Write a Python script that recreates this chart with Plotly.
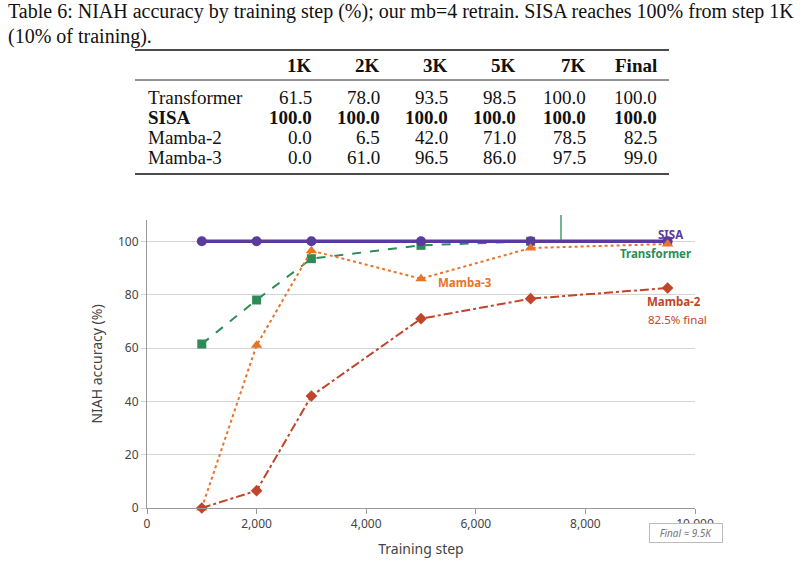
import plotly.graph_objects as go

# ---------------- data ----------------
steps = [1000, 2000, 3000, 5000, 7000, 9500]
col_labels = ["1K", "2K", "3K", "5K", "7K", "Final"]
transformer = [61.5, 78.0, 93.5, 98.5, 100.0, 100.0]
sisa = [100.0, 100.0, 100.0, 100.0, 100.0, 100.0]
mamba2 = [0.0, 6.5, 42.0, 71.0, 78.5, 82.5]
mamba3 = [0.0, 61.0, 96.5, 86.0, 97.5, 99.0]
row_names = ["Transformer", "SISA", "Mamba-2", "Mamba-3"]
y_ticks = [0, 20, 40, 60, 80, 100]
x_ticks = [0, 2000, 4000, 6000, 8000, 10000]

W, H = 806, 567
L, R, T, B = 147, 695, 220, 508  # plot area in pixels


def px(x):
    return (x - L) / (R - L)


def py(y):
    return (B - y) / (B - T)


PURPLE = "#5B3A9E"
GREEN = "#2E8B57"
ORANGE = "#E8732A"
RED = "#C0452A"
CF = "Noto Sans, Open Sans, sans-serif"
SERIF = "Liberation Serif, Times New Roman, serif"

fig = go.Figure()
fig.add_trace(go.Scatter(x=steps, y=transformer, mode="lines+markers", name="Transformer",
                         line=dict(color=GREEN, width=2, dash="dash"),
                         marker=dict(symbol="square", size=9, color=GREEN), cliponaxis=False))
fig.add_trace(go.Scatter(x=steps, y=sisa, mode="lines+markers", name="SISA",
                         line=dict(color=PURPLE, width=3.5),
                         marker=dict(symbol="circle", size=10, color=PURPLE), cliponaxis=False))
fig.add_trace(go.Scatter(x=steps, y=mamba3, mode="lines+markers", name="Mamba-3",
                         line=dict(color=ORANGE, width=2, dash="dot"),
                         marker=dict(symbol="triangle-up", size=10, color=ORANGE), cliponaxis=False))
fig.add_trace(go.Scatter(x=steps, y=mamba2, mode="lines+markers", name="Mamba-2",
                         line=dict(color=RED, width=2, dash="dashdot"),
                         marker=dict(symbol="diamond", size=9, color=RED), cliponaxis=False))

ann = []
# caption
ann.append(dict(text="Table 6: NIAH accuracy by training step (%); our mb=4 retrain. SISA reaches 100% from step 1K",
                x=px(6), y=py(12), xref="paper", yref="paper", xanchor="left", yanchor="middle",
                showarrow=False, font=dict(family=SERIF, size=20, color="#111")))
ann.append(dict(text="(10% of training).",
                x=px(6), y=py(36), xref="paper", yref="paper", xanchor="left", yanchor="middle",
                showarrow=False, font=dict(family=SERIF, size=20, color="#111")))
col_right = [314, 382, 450, 518, 588, 659]
for lab, cx in zip(col_labels, col_right):
    ann.append(dict(text="<b>%s</b>" % lab, x=px(cx), y=py(66), xref="paper", yref="paper",
                    xanchor="right", yanchor="middle", showarrow=False,
                    font=dict(family=SERIF, size=19, color="#111")))
rows = [transformer, sisa, mamba2, mamba3]
row_y = [98, 118, 137, 157]
for name, vals, ry in zip(row_names, rows, row_y):
    bold = name == "SISA"
    t = "<b>%s</b>" % name if bold else name
    ann.append(dict(text=t, x=px(146), y=py(ry), xref="paper", yref="paper",
                    xanchor="left", yanchor="middle", showarrow=False,
                    font=dict(family=SERIF, size=19, color="#111")))
    for v, cx in zip(vals, col_right):
        s = "%.1f" % v
        ann.append(dict(text="<b>%s</b>" % s if bold else s, x=px(cx), y=py(ry),
                        xref="paper", yref="paper", xanchor="right", yanchor="middle",
                        showarrow=False, font=dict(family=SERIF, size=19, color="#111")))

# series labels
ann.append(dict(text="<b>SISA</b>", x=9550, y=102.5, xref="x", yref="y", showarrow=False,
                font=dict(family=CF, size=11.5, color=PURPLE)))
ann.append(dict(text="<b>Transformer</b>", x=9270, y=95.5, xref="x", yref="y", showarrow=False,
                font=dict(family=CF, size=11.5, color=GREEN)))
ann.append(dict(text="<b>Mamba-3</b>", x=5800, y=84.5, xref="x", yref="y", showarrow=False,
                font=dict(family=CF, size=11.5, color=ORANGE)))
ann.append(dict(text="<b>Mamba-2</b>", x=9620, y=77.3, xref="x", yref="y", showarrow=False,
                font=dict(family=CF, size=11.5, color=RED)))
ann.append(dict(text="82.5% final", x=9680, y=70.7, xref="x", yref="y", showarrow=False,
                font=dict(family=CF, size=11.5, color=RED)))
ann.append(dict(text="<i>Final ≈ 9.5K</i>", x=px(686), y=py(533), xref="paper", yref="paper",
                xanchor="center", yanchor="middle",
                showarrow=False, bgcolor="white", bordercolor="#bbbbbb", borderwidth=1,
                borderpad=2, width=68,
                font=dict(family=CF, size=10, color="#777")))

shapes = [
    dict(type="line", xref="paper", yref="paper", x0=px(135), x1=px(669), y0=py(50), y1=py(50),
         line=dict(color="#111", width=1.6)),
    dict(type="line", xref="paper", yref="paper", x0=px(135), x1=px(669), y0=py(80), y1=py(80),
         line=dict(color="#111", width=0.9)),
    dict(type="line", xref="paper", yref="paper", x0=px(135), x1=px(669), y0=py(174), y1=py(174),
         line=dict(color="#111", width=1.6)),
    dict(type="line", xref="paper", yref="paper", x0=px(561), x1=px(561), y0=py(215), y1=py(240),
         line=dict(color=GREEN, width=1.3)),
]

fig.update_layout(
    width=W, height=H,
    margin=dict(l=L, r=W - R, t=T, b=H - B, pad=0),
    paper_bgcolor="white", plot_bgcolor="white",
    showlegend=False,
    annotations=ann, shapes=shapes,
    font=dict(family=CF, size=12, color="#444"),
    xaxis=dict(range=[0, 10000], tickvals=x_ticks, tickformat=",d",
               showgrid=False, zeroline=False, showline=True, linecolor="#999", linewidth=1,
               ticks="outside", ticklen=5, tickcolor="#999",
               tickfont=dict(family=CF, size=12, color="#444"),
               title=dict(text="Training step", font=dict(family=CF, size=14, color="#444"), standoff=12)),
    yaxis=dict(range=[0, 108], tickvals=y_ticks, showgrid=True, gridcolor="#d4d4d4", gridwidth=1,
               zeroline=False, showline=True, linecolor="#999", linewidth=1,
               ticks="outside", ticklen=5, tickcolor="#d4d4d4",
               tickfont=dict(family=CF, size=12, color="#444"),
               title=dict(text="NIAH accuracy (%)", font=dict(family=CF, size=14, color="#444"), standoff=12)),
)

fig.write_html("out.html")
